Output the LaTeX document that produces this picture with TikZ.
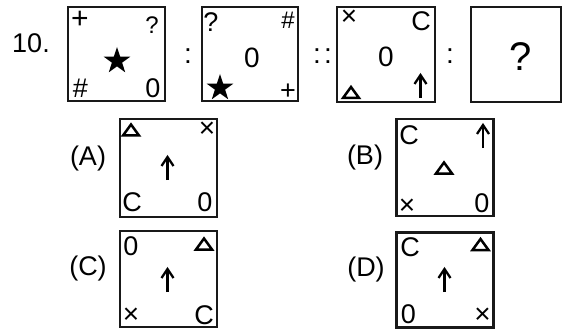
\documentclass[tikz,border=0pt]{standalone}
\usepackage{fontspec}
\setmainfont{Liberation Sans}
\usetikzlibrary{shapes.geometric}

\begin{document}
\begin{tikzpicture}[
    x=1pt, y=-1pt,
    box/.style={rectangle, draw=black!90, line width=2.3pt, inner sep=0pt},
    sym/.style={font=\fontsize{27}{27}\selectfont, inner sep=0pt},
    smallsym/.style={font=\fontsize{28}{28}\selectfont, inner sep=0pt},
    lbl/.style={font=\fontsize{27}{27}\selectfont, inner sep=0pt},
    starsym/.style={star, star points=5, star point ratio=2.6, fill=black,
                    minimum size=28pt, inner sep=0pt},
    tri/.style={draw=black, line width=2.5pt, line join=miter},
    arr/.style={draw=black, line width=2.3pt, line join=miter}
]
\useasboundingbox (0,0) rectangle (563,329);

% Question row
\node[lbl] (num) at (31,43) {10.};
\node[box, minimum width=97pt, minimum height=94pt] (q1) at (116.5,54) {};
\node[box, minimum width=96pt, minimum height=94pt] (q2) at (250,54) {};
\node[box, minimum width=98pt, minimum height=95pt] (q3) at (386,54.5) {};
\node[box, minimum width=90pt, minimum height=95pt] (q4) at (516,54.5) {};

\node[lbl, font=\fontsize{28}{28}\selectfont] (c1)  at (188,56.5) {:};
\node[lbl, font=\fontsize{28}{28}\selectfont] (c2a) at (317,56.5) {:};
\node[lbl, font=\fontsize{28}{28}\selectfont] (c2b) at (328,56.5) {:};
\node[lbl, font=\fontsize{28}{28}\selectfont] (c3)  at (450,56.5) {:};

% Figure 1
\node[sym, font=\fontsize{30}{30}\selectfont] (q1tl) at (80,19.5) {+};
\node[sym, font=\fontsize{24}{24}\selectfont] (q1tr) at (152,25) {?};
\node[sym] (q1bl) at (80.5,88) {\#};
\node[sym] (q1br) at (153,88) {0};
\node[starsym] (q1c) at (117,61) {};

% Figure 2
\node[sym] (q2tl) at (211,22) {?};
\node[sym, font=\fontsize{24}{24}\selectfont] (q2tr) at (288,20) {\#};
\node[sym, font=\fontsize{28}{28}\selectfont] (q2c) at (252,58) {0};
\node[starsym] (q2bl) at (220,88) {};
\node[sym] (q2br) at (288,92) {+};

% Figure 3
\node[smallsym] (q3tl) at (349,18) {×};
\node[sym] (q3tr) at (421,21) {C};
\node[sym, font=\fontsize{28}{28}\selectfont] (q3c) at (386,57) {0};

% Figure 4
\node[sym, font=\fontsize{40}{40}\selectfont] (q4c) at (521,57) {?};

% Answer options
\node[lbl] (la) at (88,159) {(A)};
\node[lbl] (lb) at (365,158) {(B)};
\node[lbl] (lc) at (88,269) {(C)};
\node[lbl] (ld) at (366,270) {(D)};
\node[box, minimum width=97pt, minimum height=98pt] (oa) at (168.5,168) {};
\node[box, minimum width=97pt, minimum height=97pt] (ob) at (445,167.5) {};
\node[box, minimum width=97pt, minimum height=96pt] (oc) at (168.5,279) {};
\node[box, minimum width=97pt, minimum height=95pt] (od) at (445,280) {};

% Option A
\node[smallsym] (oatr) at (207,130) {×};
\node[sym] (oabl) at (132,202) {C};
\node[sym] (oabr) at (205,202) {0};
% Option B
\node[smallsym] (obbl) at (407,207) {×};
\node[sym] (obtl) at (409,135) {C};
\node[sym] (obbr) at (482,203) {0};
% Option C
\node[sym] (octl) at (131,246) {0};
\node[smallsym] (ocbl) at (131,315.5) {×};
\node[sym] (ocbr) at (204,315) {C};
% Option D
\node[sym] (odtl) at (410,247) {C};
\node[sym] (odbl) at (408.5,314.5) {0};
\node[smallsym] (odbr) at (482.5,316) {×};

% Triangles and arrows
\foreach \x/\y in {351/92.5, 131/130, 444/168, 204/244, 480.5/244.5}
  \draw[tri] (\x-8,\y+5.5) -- (\x,\y-5.5) -- (\x+8,\y+5.5) -- cycle;
\foreach \x/\y in {420.5/98, 167.5/180, 483/148, 167.5/292, 444.5/292} {
  \draw[arr] (\x,\y) -- (\x,\y-23);
  \draw[arr] (\x-6,\y-14) -- (\x,\y-23) -- (\x+6,\y-14);
}

\end{tikzpicture}
\end{document}
